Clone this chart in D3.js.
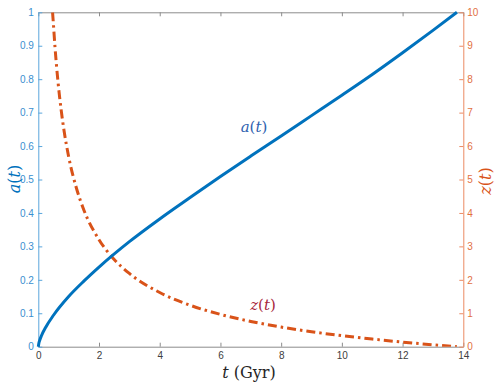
<!DOCTYPE html>
<html>
<head>
<meta charset="utf-8">
<script src="https://cdn.jsdelivr.net/npm/d3@7"></script>
<style>
  body { margin: 0; background: #fff; }
  svg { display: block; }
  .tick text { font-family: "Liberation Sans", Arial, sans-serif; font-size: 10px; }
  .tex { font-family: "DejaVu Serif", "Liberation Serif", serif; }
</style>
</head>
<body>
<div id="vis"></div>
<script>
// cosmic time (Gyr) vs scale factor a(t)
const tA = [0, 0.02, 0.05, 0.1, 0.25, 0.5, 1, 1.5, 2, 3, 4, 5, 6, 7, 8, 9, 10, 11, 12, 13, 13.79];
const aVals = [0, 0.011, 0.020, 0.032, 0.059, 0.094, 0.150, 0.196, 0.238, 0.314, 0.382, 0.446, 0.509, 0.570, 0.630, 0.691, 0.752, 0.814, 0.879, 0.946, 1.0];

// redshift z(t)
const tZ = [0.47, 0.5, 0.55, 0.6, 0.65, 0.75, 0.85, 1, 1.25, 1.5, 2, 2.5, 3, 4, 5, 6, 7, 8, 9, 10, 11, 12, 13, 13.79];
const zVals = [10, 9.62, 8.96, 8.40, 7.91, 7.10, 6.45, 5.68, 4.76, 4.09, 3.20, 2.61, 2.19, 1.62, 1.24, 0.966, 0.756, 0.587, 0.448, 0.330, 0.228, 0.137, 0.057, 0];

const xTicks = [0, 2, 4, 6, 8, 10, 12, 14];
const aTicks = [0, 0.1, 0.2, 0.3, 0.4, 0.5, 0.6, 0.7, 0.8, 0.9, 1];
const zTicks = [0, 1, 2, 3, 4, 5, 6, 7, 8, 9, 10];

const width = 499, height = 382;
const margin = {left: 38.3, right: 499 - 463.3, top: 12.3, bottom: 382 - 346.7};

const blue = "#0072BD", orange = "#D95319";

const svg = d3.select("#vis").append("svg")
  .attr("width", width)
  .attr("height", height);

const x = d3.scaleLinear().domain([0, 14]).range([margin.left, width - margin.right]);
const yA = d3.scaleLinear().domain([0, 1]).range([height - margin.bottom, margin.top]);
const yZ = d3.scaleLinear().domain([0, 10]).range([height - margin.bottom, margin.top]);

svg.append("clipPath").attr("id", "clip")
  .append("rect")
  .attr("x", margin.left).attr("y", margin.top)
  .attr("width", x(14) - x(0)).attr("height", yA(0) - yA(1));

// bottom axis
const gx = svg.append("g")
  .attr("transform", `translate(0,${yA(0)})`)
  .call(d3.axisBottom(x).tickValues(xTicks).tickSizeInner(-4).tickSizeOuter(0).tickPadding(5));
gx.selectAll("line, path").attr("stroke", "#8c8c8c");
gx.selectAll("text").attr("fill", "#404040");

// top box line
const gt = svg.append("g")
  .attr("transform", `translate(0,${yA(1)})`)
  .call(d3.axisTop(x).tickValues(xTicks).tickSizeInner(-4).tickSizeOuter(0).tickFormat(""));
gt.selectAll("line, path").attr("stroke", "#8c8c8c");

// left axis, a(t)
const gl = svg.append("g")
  .attr("transform", `translate(${x(0)},0)`)
  .call(d3.axisLeft(yA).tickValues(aTicks).tickSizeInner(-4).tickSizeOuter(0).tickPadding(4.5)
    .tickFormat(d => d3.format("")(+d.toFixed(1))));
gl.selectAll("line, path").attr("stroke", "#5aa6dc");
gl.selectAll("text").attr("fill", "#3a8fd0");

// right axis, z(t)
const gr = svg.append("g")
  .attr("transform", `translate(${x(14)},0)`)
  .call(d3.axisRight(yZ).tickValues(zTicks).tickSizeInner(-4).tickSizeOuter(0).tickPadding(4));
gr.selectAll("line, path").attr("stroke", "#eb8a63");
gr.selectAll("text").attr("fill", "#e2703f");

// curves
const lineA = d3.line()
  .x((d, i) => x(tA[i]))
  .y(d => yA(d))
  .curve(d3.curveMonotoneX);

const lineZ = d3.line()
  .x((d, i) => x(tZ[i]))
  .y(d => yZ(d))
  .curve(d3.curveMonotoneX);

svg.append("path")
  .datum(zVals)
  .attr("clip-path", "url(#clip)")
  .attr("fill", "none")
  .attr("stroke", orange)
  .attr("stroke-width", 3)
  .attr("stroke-dasharray", "9,4,2.5,4")
  .attr("d", lineZ);

svg.append("path")
  .datum(aVals)
  .attr("fill", "none")
  .attr("stroke", blue)
  .attr("stroke-width", 3)
  .attr("stroke-linejoin", "round")
  .attr("d", lineA);

// labels (LaTeX style: italic variables, upright parens)
function texLabel(g, parts) {
  parts.forEach(p => {
    g.append("tspan").attr("font-style", p[1] ? "italic" : "normal").text(p[0]);
  });
}

const aText = svg.append("text").attr("class", "tex")
  .attr("x", 254).attr("y", 132).attr("text-anchor", "middle")
  .attr("font-size", 15).attr("fill", "#2f62b0");
texLabel(aText, [["a", true], ["(", false], ["t", true], [")", false]]);

const zText = svg.append("text").attr("class", "tex")
  .attr("x", 263).attr("y", 310).attr("text-anchor", "middle")
  .attr("font-size", 15).attr("fill", "#a8283c");
texLabel(zText, [["z", true], ["(", false], ["t", true], [")", false]]);

const xl = svg.append("text").attr("class", "tex")
  .attr("x", 249).attr("y", 378).attr("text-anchor", "middle")
  .attr("font-size", 16).attr("fill", "#262626");
texLabel(xl, [["t", true], [" (Gyr)", false]]);

const yl = svg.append("text").attr("class", "tex")
  .attr("transform", `translate(20,179) rotate(-90)`)
  .attr("text-anchor", "middle")
  .attr("font-size", 16).attr("fill", blue);
texLabel(yl, [["a", true], ["(", false], ["t", true], [")", false]]);

const yr = svg.append("text").attr("class", "tex")
  .attr("transform", `translate(491,181) rotate(-90)`)
  .attr("text-anchor", "middle")
  .attr("font-size", 16).attr("fill", orange);
texLabel(yr, [["z", true], ["(", false], ["t", true], [")", false]]);
</script>
</body>
</html>
